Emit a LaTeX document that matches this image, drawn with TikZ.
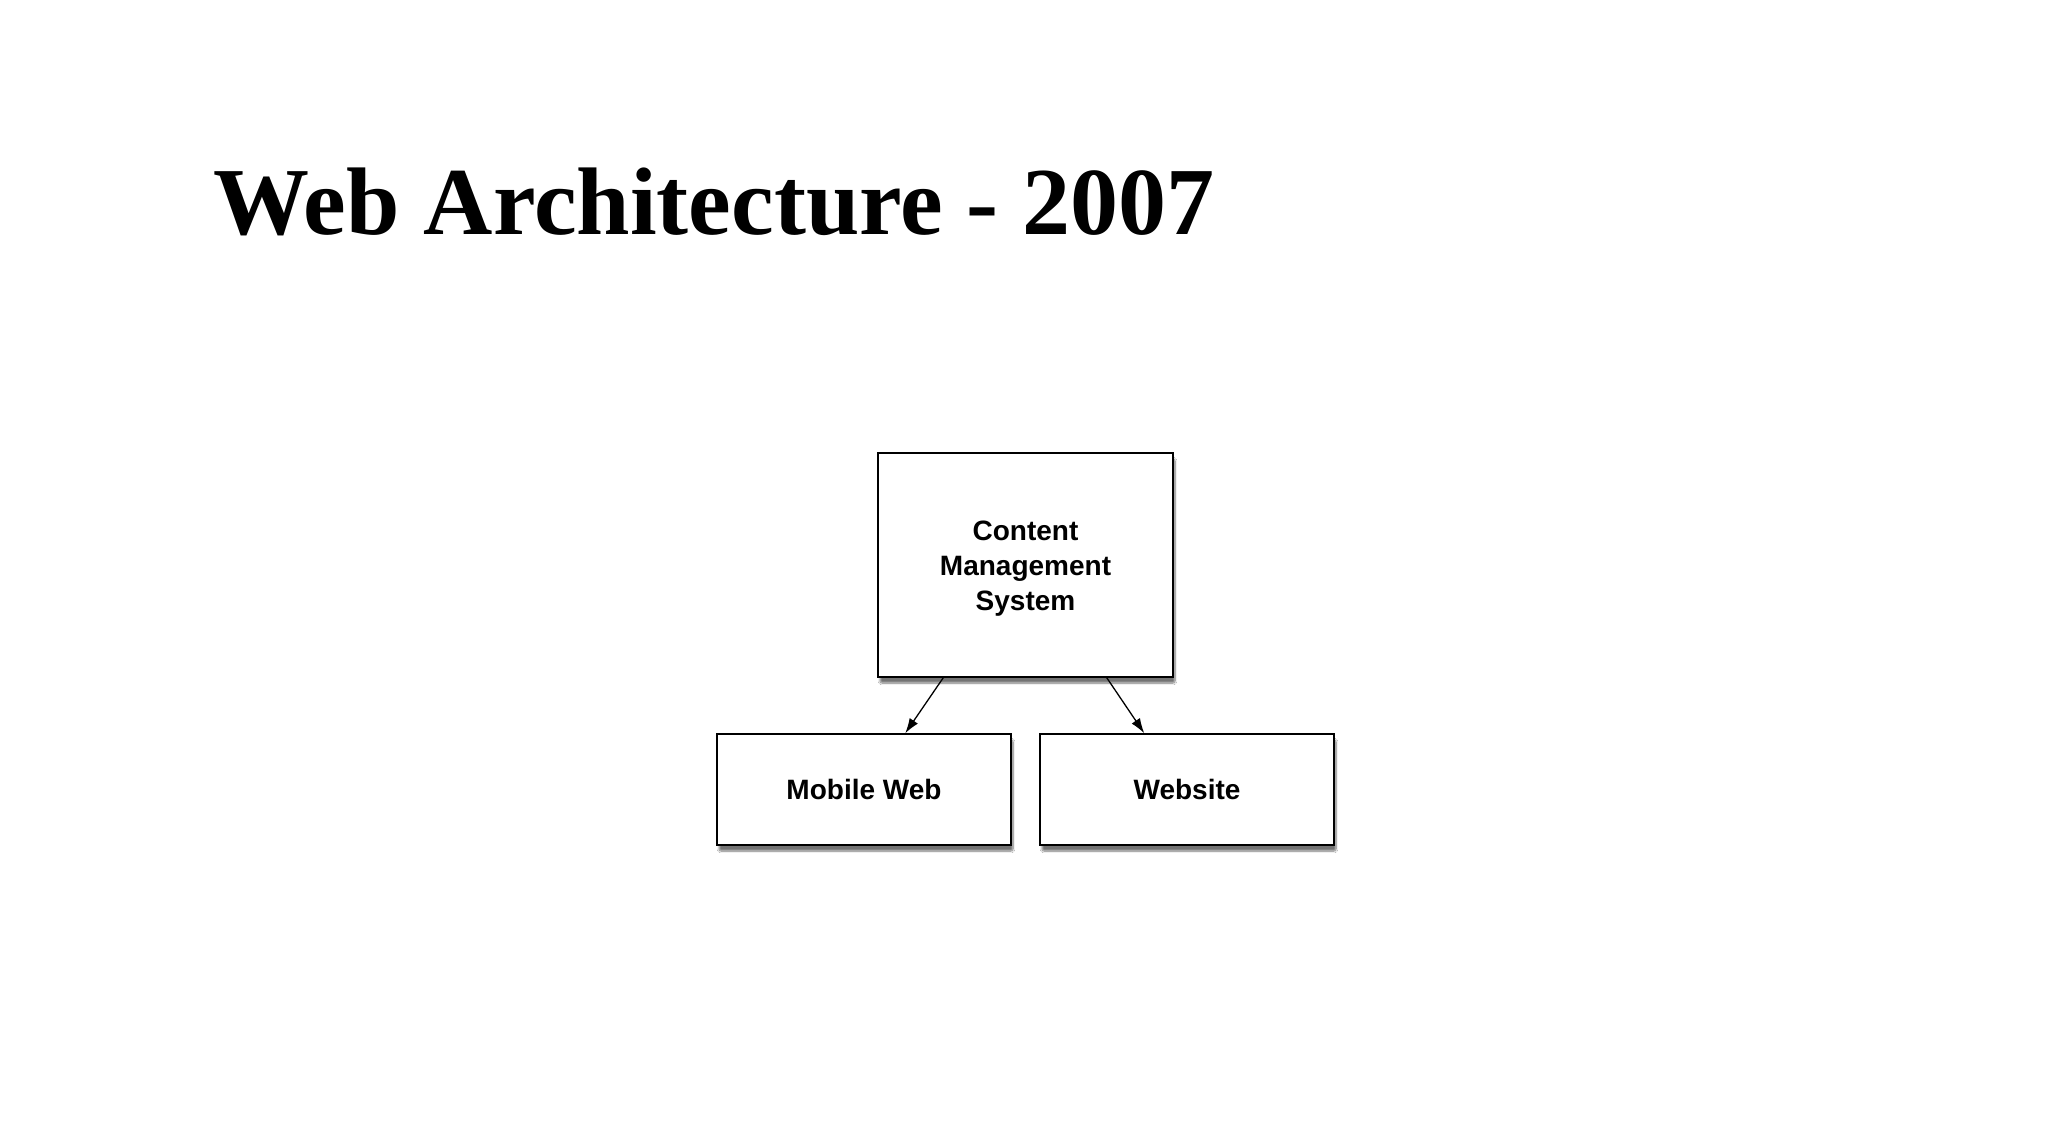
\documentclass[tikz,border=0pt]{standalone}
\usepackage{fontspec}
\setmainfont{Liberation Serif}
\newfontfamily\hvfont{Liberation Sans}
\usetikzlibrary{arrows.meta,shadows.blur}
\begin{document}
\begin{tikzpicture}[x=1pt,y=-1pt,
  boxstyle/.style={draw=black,line width=1.5pt,fill=white,rectangle,inner sep=0pt,
    font=\hvfont\bfseries\fontsize{28}{35}\selectfont,align=center,
    blur shadow={shadow xshift=2pt,shadow yshift=-6pt,shadow blur steps=8,shadow blur extra rounding=2pt,shadow opacity=55}},
  arr/.style={line width=1.3pt,-{Latex[length=15pt,width=10pt]}},
  titlestyle/.style={font=\bfseries\fontsize{96}{110}\selectfont,inner sep=0pt,anchor=base west}]
\useasboundingbox[fill=white] (0,0) rectangle (2048,1139);
\node[titlestyle] (title) at (213,235) {Web Architecture - 2007};
\node[boxstyle,minimum width=295pt,minimum height=224pt] (cms) at (1025.5,565) {};
\node[font=\hvfont\bfseries\fontsize{28}{35}\selectfont,align=center] (cmstext) at (1025.5,569) {Content\\Management\\System};
\node[boxstyle,minimum width=294pt,minimum height=111pt] (mob) at (864,789.5) {Mobile Web};
\node[boxstyle,minimum width=294pt,minimum height=111pt] (web) at (1187,789.5) {Website};
\draw[arr] ([xshift=66pt]cms.south west) -- ([xshift=189pt]mob.north west);
\draw[arr] ([xshift=-67pt]cms.south east) -- ([xshift=105pt]web.north west);
\end{tikzpicture}
\end{document}
